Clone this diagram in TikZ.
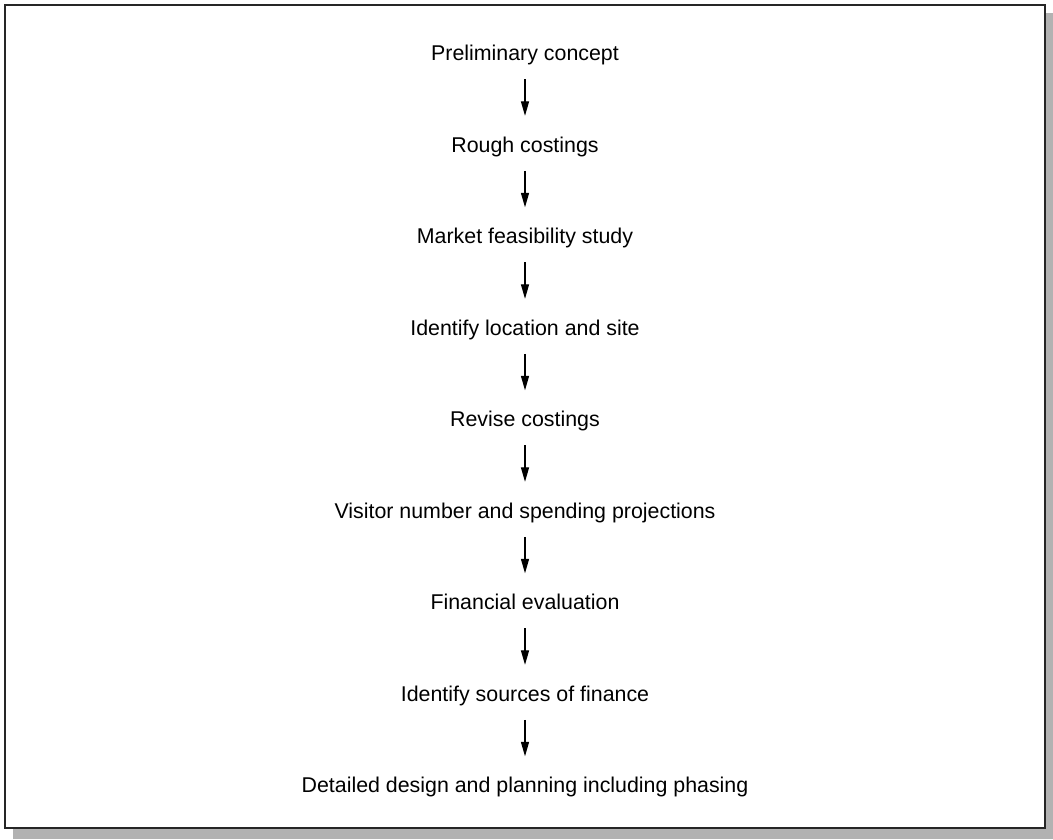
\documentclass[tikz,border=0pt]{standalone}
\usepackage{fontspec}
\setmainfont{Liberation Sans}
\usetikzlibrary{arrows.meta}
\definecolor{shadowgray}{RGB}{178,178,178}
\tikzset{
	stage/.style={inner sep=0pt,text height=0.4cm,text depth=0.02cm,font=\fontsize{15.2}{18}\selectfont},
	flow/.style={-{Triangle[length=0.36cm,width=0.2cm]},line width=0.8pt,shorten <=0.44cm,shorten >=0.5cm}
}
\begin{document}
\begin{tikzpicture}
			\useasboundingbox (0,0) rectangle (26.325,20.975);
			\fill[shadowgray] (0.325,0) rectangle (26.325,20.65);
			\draw[line width=1.4pt,draw=black!85,fill=white] (0.125,0.275) rectangle (26.125,20.85);
			
			\node[stage] (A) at (13.125,19.65) {Preliminary concept};
			\node[stage] (B) at (13.125,17.3625) {Rough costings};
			\node[stage] (C) at (13.125,15.075) {Market feasibility study};
			\node[stage] (D) at (13.125,12.7875) {Identify location and site};
			\node[stage] (E) at (13.125,10.5) {Revise costings};
			\node[stage] (F) at (13.125,8.2125) {Visitor number and spending projections};
			\node[stage] (G) at (13.125,5.925) {Financial evaluation};
			\node[stage] (H) at (13.125,3.6375) {Identify sources of finance};
			\node[stage] (I) at (13.125,1.35) {Detailed design and planning including phasing};
			
			\path [flow] (A) edge (B);
			\path [flow] (B) edge (C);
			\path [flow] (C) edge (D);
			\path [flow] (D) edge (E);
			\path [flow] (E) edge (F);
			\path [flow] (F) edge (G);
			\path [flow] (G) edge (H);
			\path [flow] (H) edge (I);

		\end{tikzpicture}
\end{document}
